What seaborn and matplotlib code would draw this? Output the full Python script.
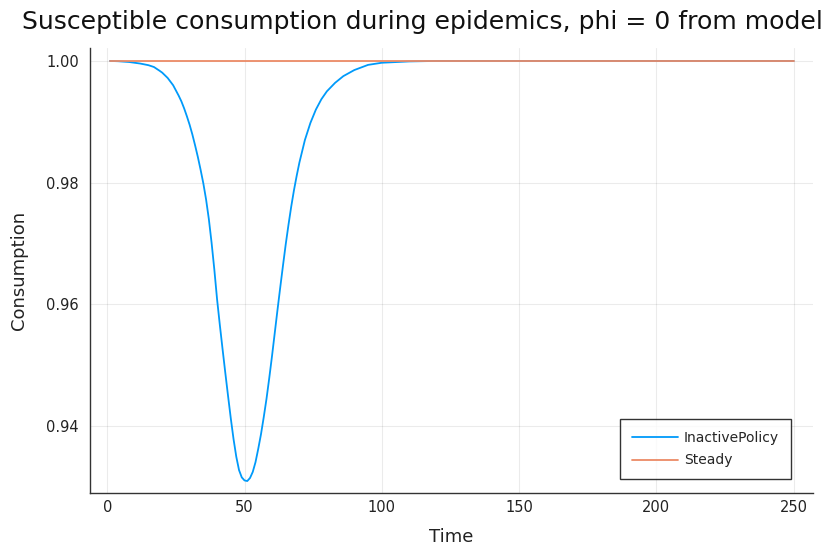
import pandas as pd
import matplotlib
matplotlib.use("Agg")
import matplotlib.pyplot as plt
import seaborn as sns

# Values
time = [1, 4, 8, 12, 15, 17, 19, 20, 22, 24, 26, 27, 28, 29, 30, 31, 32, 33, 34,
        35, 36, 37, 38, 39, 40, 41, 42, 43, 44, 45, 46, 47, 48, 49, 50, 51, 52,
        53, 54, 55, 56, 57, 58, 59, 60, 61, 62, 63, 64, 65, 66, 67, 68, 69, 70,
        72, 74, 76, 78, 80, 83, 86, 90, 95, 100, 110, 120, 150, 200, 250]
inactive_policy = [1.0000, 0.99995, 0.99982, 0.99957, 0.99930, 0.99900, 0.99840,
                   0.99808, 0.99720, 0.99600, 0.99430, 0.99335, 0.99220, 0.99090,
                   0.98950, 0.98790, 0.98610, 0.98420, 0.98210, 0.97985, 0.97720,
                   0.97400, 0.97010, 0.96570, 0.96080, 0.95660, 0.95260, 0.94870,
                   0.94490, 0.94120, 0.93780, 0.93490, 0.93270, 0.93150, 0.93100,
                   0.93090, 0.93140, 0.93240, 0.93400, 0.93620, 0.93860, 0.94140,
                   0.94440, 0.94780, 0.95140, 0.95520, 0.95900, 0.96270, 0.96630,
                   0.96980, 0.97300, 0.97600, 0.97870, 0.98110, 0.98330, 0.98700,
                   0.98980, 0.99200, 0.99370, 0.99500, 0.99640, 0.99750, 0.99850,
                   0.99935, 0.99970, 0.99992, 1.0, 1.0, 1.0, 1.0]
steady = [1.0] * len(time)

series_names = ["InactivePolicy", "Steady"]
colors = ["#009AFA", "#EC8A66"]

df = pd.concat([
    pd.DataFrame({"Time": time, "Consumption": inactive_policy, "Series": series_names[0]}),
    pd.DataFrame({"Time": time, "Consumption": steady, "Series": series_names[1]}),
], ignore_index=True)

sns.set_style("white")
plt.rcParams["font.family"] = ["DejaVu Sans"]

fig = plt.figure(figsize=(8.37, 5.48), dpi=100)
ax = fig.add_axes([0.1075, 0.100, 0.8635, 0.812])

sns.lineplot(data=df, x="Time", y="Consumption", hue="Series",
             palette=dict(zip(series_names, colors)), linewidth=1.3, ax=ax)

ax.set_xlim(-6.3, 257)
ax.set_ylim(0.92890, 1.00209)
ax.set_xticks([0, 50, 100, 150, 200, 250])
ax.set_yticks([0.94, 0.96, 0.98, 1.00])
ax.set_yticklabels(["0.94", "0.96", "0.98", "1.00"])
ax.grid(True, color="black", alpha=0.08, linewidth=0.8)

for side in ["top", "right"]:
    ax.spines[side].set_visible(False)
for side in ["left", "bottom"]:
    ax.spines[side].set_color("#333333")
    ax.spines[side].set_linewidth(1.0)

ax.tick_params(axis="both", direction="in", labelsize=10.5, colors="#333333",
               labelcolor="#222222")
ax.tick_params(axis="y", length=6, pad=8)
ax.tick_params(axis="x", length=4, pad=5)

ax.set_xlabel("Time", fontsize=13, color="#222222", labelpad=9)
ax.set_ylabel("Consumption", fontsize=13, color="#222222", labelpad=13)

# title sits slightly left and runs almost to the right edge, as in the original
fig.text(22 / 837, 1 - 22 / 548, "Susceptible consumption during epidemics, phi = 0 from model",
         ha="left", va="center", fontsize=18.1, color="#111111")

leg = ax.legend(loc="lower right", bbox_to_anchor=(0.9696, 0.0315), borderaxespad=0,
                fontsize=10, frameon=True, fancybox=False, handlelength=3.3,
                handletextpad=0.45, borderpad=0.85, labelspacing=0.6)
leg.get_frame().set_edgecolor("black")
leg.get_frame().set_linewidth(1.0)
leg.set_title(None)

fig.savefig("out.png", dpi=100)
